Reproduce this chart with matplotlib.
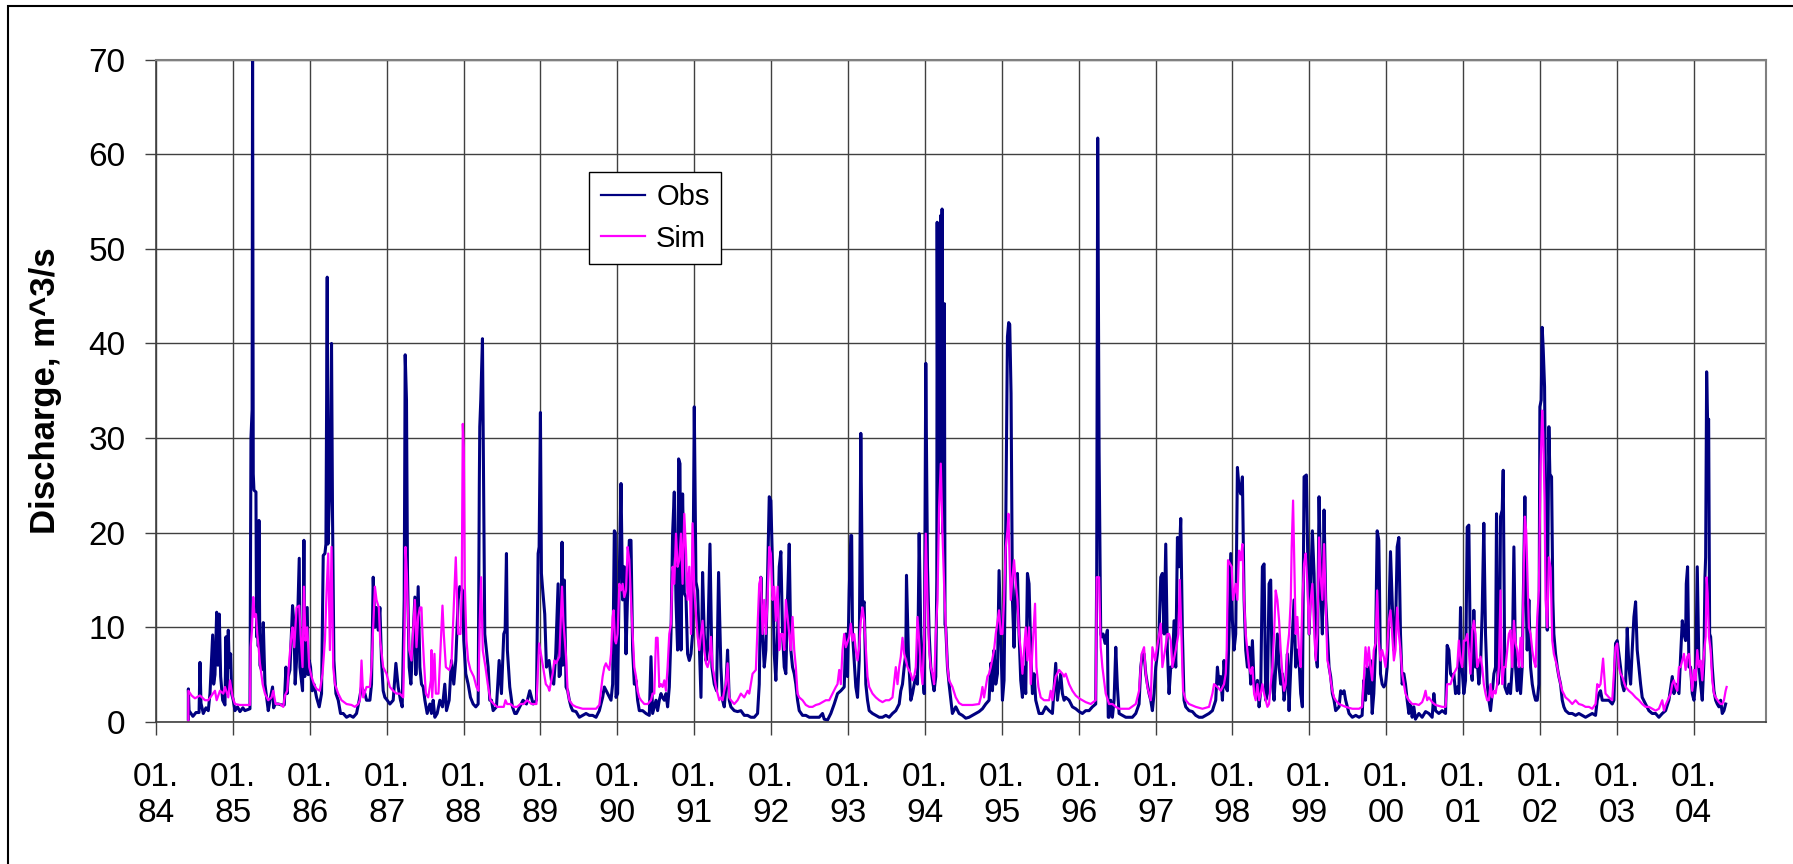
import matplotlib
matplotlib.use("Agg")
import matplotlib.pyplot as plt
import numpy as np
from matplotlib.patches import Rectangle

plt.rcParams['font.family'] = ['Liberation Sans', 'DejaVu Sans']

# daily discharge, read as (decimal year, m^3/s) points
obs_a = [(1984.420, 0.3), (1984.421, 3.5), (1984.430, 1.2), (1984.480, 0.6), (1984.520, 1.0), (1984.560, 1.0),
         (1984.572, 6.3), (1984.585, 2.0), (1984.615, 0.9), (1984.650, 1.5), (1984.680, 1.2), (1984.702, 3.0),
         (1984.737, 9.2), (1984.750, 4.0), (1984.767, 5.0), (1984.789, 11.6), (1984.805, 6.0), (1984.823, 11.4),
         (1984.841, 4.8), (1984.867, 2.3), (1984.897, 1.8), (1984.910, 9.0), (1984.925, 3.0), (1984.940, 9.7),
         (1984.953, 5.8), (1984.971, 7.2), (1984.984, 3.0), (1985.005, 2.3), (1985.027, 1.2), (1985.060, 1.6),
         (1985.092, 1.1), (1985.130, 1.5), (1985.157, 1.2), (1985.222, 1.4), (1985.235, 30.0), (1985.250, 33.0),
         (1985.256, 72.0), (1985.265, 26.2), (1985.274, 24.5), (1985.300, 24.3), (1985.308, 9.0), (1985.317, 21.0),
         (1985.330, 8.0), (1985.339, 21.3), (1985.352, 6.0), (1985.373, 5.5), (1985.395, 10.5), (1985.417, 4.0),
         (1985.438, 2.6), (1985.460, 1.2), (1985.482, 2.3), (1985.516, 3.7), (1985.530, 1.5), (1985.547, 1.9),
         (1985.590, 1.9), (1985.633, 1.8), (1985.668, 1.8), (1985.690, 5.8), (1985.705, 3.0), (1985.720, 4.8),
         (1985.742, 5.5), (1985.776, 12.3), (1985.794, 10.4), (1985.810, 4.0), (1985.828, 6.5), (1985.863, 17.3),
         (1985.872, 5.8), (1985.906, 3.3), (1985.924, 19.2), (1985.935, 4.8), (1985.967, 12.1), (1985.980, 5.0),
         (1985.993, 6.5), (1986.010, 5.8), (1986.032, 3.3), (1986.054, 4.0), (1986.088, 2.6), (1986.123, 1.6),
         (1986.153, 3.0), (1986.175, 17.6), (1986.197, 17.8), (1986.210, 18.8), (1986.227, 47.0), (1986.236, 18.8),
         (1986.262, 25.0), (1986.283, 40.0), (1986.296, 21.7), (1986.314, 6.5), (1986.340, 3.0), (1986.370, 2.3),
         (1986.400, 0.9), (1986.435, 0.9), (1986.478, 0.5), (1986.522, 0.7), (1986.565, 0.5), (1986.608, 0.9),
         (1986.643, 2.3), (1986.673, 3.7), (1986.717, 3.0), (1986.738, 2.3), (1986.782, 2.3), (1986.803, 4.0),
         (1986.825, 15.3), (1986.847, 10.0), (1986.868, 12.1), (1986.890, 9.7), (1986.912, 12.1), (1986.933, 6.5),
         (1986.955, 3.3), (1986.977, 2.6), (1987.007, 2.3), (1987.042, 1.9), (1987.085, 2.3), (1987.120, 6.2),
         (1987.150, 3.7), (1987.180, 2.3), (1987.202, 1.6), (1987.215, 7.2), (1987.228, 12.9), (1987.241, 38.8),
         (1987.258, 34.0), (1987.271, 15.7), (1987.293, 5.8), (1987.315, 4.0), (1987.336, 7.6), (1987.367, 13.2),
         (1987.380, 5.0), (1987.410, 14.3), (1987.432, 5.8), (1987.453, 4.0), (1987.475, 3.7), (1987.497, 2.3),
         (1987.527, 0.9), (1987.562, 1.9), (1987.583, 0.9), (1987.605, 2.3), (1987.627, 0.5), (1987.657, 0.9),
         (1987.692, 2.3), (1987.726, 1.6), (1987.756, 4.0), (1987.778, 1.2), (1987.813, 2.3), (1987.843, 6.5),
         (1987.873, 4.0), (1987.899, 6.5), (1987.930, 12.9), (1987.951, 14.3), (1987.986, 13.9), (1988.003, 8.6),
         (1988.029, 5.1), (1988.060, 4.0), (1988.090, 2.6), (1988.125, 1.9), (1988.159, 1.6), (1988.190, 1.9),
         (1988.205, 25.0), (1988.211, 31.2), (1988.224, 34.0), (1988.246, 40.5), (1988.263, 23.4), (1988.276, 9.3),
         (1988.298, 7.6), (1988.320, 5.8), (1988.341, 2.3), (1988.363, 2.3), (1988.385, 1.2), (1988.428, 1.6),
         (1988.463, 6.5), (1988.493, 3.0), (1988.523, 9.3), (1988.541, 9.7), (1988.558, 17.8), (1988.570, 7.6),
         (1988.601, 3.7), (1988.636, 1.6), (1988.666, 0.9), (1988.688, 0.9), (1988.731, 1.6), (1988.774, 2.3),
         (1988.818, 1.9), (1988.861, 3.3), (1988.905, 1.9), (1988.948, 2.3), (1988.970, 17.8), (1988.983, 18.5),
         (1989.000, 32.7), (1989.013, 15.7), (1989.026, 14.3), (1989.056, 11.4), (1989.078, 5.8), (1989.113, 6.5),
         (1989.143, 4.4), (1989.173, 4.0), (1989.199, 7.2), (1989.230, 14.6), (1989.243, 4.8)]

obs_b = [(1989.260, 5.0), (1989.281, 19.0), (1989.290, 6.0), (1989.311, 15.0), (1989.333, 3.7), (1989.354, 3.3),
         (1989.376, 2.3), (1989.398, 1.6), (1989.419, 1.2), (1989.463, 1.1), (1989.506, 0.5), (1989.549, 0.7),
         (1989.593, 0.9), (1989.636, 0.7), (1989.679, 0.7), (1989.723, 0.5), (1989.766, 1.2), (1989.809, 2.6),
         (1989.831, 3.7), (1989.874, 3.0), (1989.918, 2.3), (1989.939, 4.0), (1989.961, 20.2), (1989.974, 20.0),
         (1989.983, 2.6), (1990.004, 3.0), (1990.026, 15.7), (1990.048, 25.2), (1990.069, 12.9), (1990.091, 16.4),
         (1990.113, 7.2), (1990.134, 13.6), (1990.156, 19.2), (1990.178, 19.2), (1990.199, 7.6), (1990.221, 4.0),
         (1990.243, 4.4), (1990.264, 2.3), (1990.286, 1.2), (1990.329, 1.2), (1990.373, 0.9), (1990.416, 0.7),
         (1990.438, 6.9), (1990.459, 0.9), (1990.503, 2.3), (1990.524, 1.2), (1990.546, 2.3), (1990.568, 3.0),
         (1990.589, 2.6), (1990.611, 2.3), (1990.633, 3.0), (1990.654, 1.6), (1990.676, 3.7), (1990.698, 9.3),
         (1990.719, 19.9), (1990.741, 24.3), (1990.763, 12.9), (1990.784, 7.6), (1990.797, 27.8), (1990.815, 27.3),
         (1990.828, 7.6), (1990.849, 24.1), (1990.871, 13.6), (1990.893, 13.2), (1990.914, 7.2), (1990.936, 6.5),
         (1990.958, 7.2), (1990.979, 9.3), (1991.001, 33.3), (1991.023, 14.8), (1991.044, 13.9), (1991.066, 8.3),
         (1991.088, 2.6), (1991.109, 15.8), (1991.131, 9.3), (1991.153, 6.5), (1991.174, 7.6), (1991.205, 18.8),
         (1991.231, 5.8), (1991.261, 4.0), (1991.291, 3.3), (1991.317, 15.8), (1991.347, 5.8), (1991.369, 2.3),
         (1991.391, 1.6), (1991.412, 3.7), (1991.434, 7.6), (1991.456, 2.3), (1991.477, 1.6), (1991.521, 1.2),
         (1991.564, 1.1), (1991.607, 1.2), (1991.651, 0.7), (1991.694, 0.7), (1991.737, 0.5), (1991.781, 0.5),
         (1991.824, 0.9), (1991.846, 4.0), (1991.867, 15.3), (1991.889, 9.3), (1991.911, 5.8), (1991.932, 7.6),
         (1991.954, 15.3), (1991.976, 23.8), (1991.997, 23.4), (1992.019, 16.4), (1992.041, 7.2), (1992.062, 4.4),
         (1992.084, 9.3), (1992.106, 16.4), (1992.127, 18.0), (1992.149, 9.3), (1992.171, 5.8), (1992.192, 5.1),
         (1992.214, 12.9), (1992.236, 18.8), (1992.257, 7.6), (1992.279, 5.8), (1992.301, 5.1), (1992.322, 4.0),
         (1992.344, 2.3), (1992.366, 1.2), (1992.409, 0.7), (1992.452, 0.7), (1992.496, 0.5), (1992.539, 0.5),
         (1992.582, 0.5), (1992.626, 0.5), (1992.669, 0.9), (1992.691, 0.3), (1992.734, 0.2), (1992.777, 0.9),
         (1992.821, 1.9), (1992.864, 3.0), (1992.907, 3.3), (1992.951, 3.7), (1992.972, 9.3), (1992.994, 4.8),
         (1993.016, 13.9), (1993.037, 19.7), (1993.048, 19.7), (1993.059, 9.3), (1993.081, 6.5), (1993.102, 3.7),
         (1993.124, 2.6), (1993.146, 6.5), (1993.167, 30.5), (1993.189, 12.3), (1993.211, 12.7), (1993.232, 4.0),
         (1993.254, 2.3), (1993.276, 1.2), (1993.319, 0.9), (1993.362, 0.7), (1993.406, 0.5), (1993.449, 0.5),
         (1993.492, 0.7), (1993.536, 0.5), (1993.579, 0.9), (1993.622, 1.2), (1993.666, 1.9), (1993.687, 3.3),
         (1993.709, 4.0), (1993.731, 5.8), (1993.752, 7.2), (1993.761, 15.5), (1993.787, 6.9), (1993.817, 2.3),
         (1993.839, 3.0), (1993.861, 4.0), (1993.882, 4.8), (1993.904, 4.0), (1993.926, 19.9), (1993.947, 9.3),
         (1993.969, 5.8), (1993.991, 3.0), (1994.012, 37.9), (1994.034, 16.5), (1994.056, 9.3), (1994.077, 5.8),
         (1994.099, 4.4), (1994.120, 3.3), (1994.142, 4.8), (1994.155, 15.0), (1994.160, 52.8), (1994.170, 20.0),
         (1994.180, 50.5), (1994.190, 25.0), (1994.205, 53.5), (1994.215, 30.0), (1994.224, 54.2), (1994.235, 20.0),
         (1994.254, 44.2), (1994.262, 10.3)]

obs_c = [(1994.272, 10.0), (1994.294, 5.8), (1994.315, 4.0), (1994.358, 0.9), (1994.402, 1.6), (1994.445, 0.9),
         (1994.488, 0.7), (1994.532, 0.4), (1994.575, 0.5), (1994.618, 0.7), (1994.662, 0.9), (1994.705, 1.1),
         (1994.749, 1.4), (1994.792, 1.9), (1994.835, 2.3), (1994.857, 6.2), (1994.879, 3.3), (1994.900, 7.6),
         (1994.922, 4.0), (1994.944, 5.1), (1994.965, 16.0), (1994.987, 9.3), (1995.009, 2.3), (1995.030, 4.4),
         (1995.052, 20.6), (1995.074, 40.7), (1995.090, 42.2), (1995.104, 42.0), (1995.121, 34.7), (1995.139, 12.9),
         (1995.160, 7.9), (1995.182, 13.9), (1995.204, 15.7), (1995.225, 9.3), (1995.247, 4.4), (1995.269, 2.6),
         (1995.290, 5.8), (1995.312, 3.0), (1995.334, 15.7), (1995.355, 14.6), (1995.377, 7.6), (1995.399, 3.0),
         (1995.420, 5.1), (1995.442, 2.3), (1995.485, 0.9), (1995.529, 0.9), (1995.572, 1.6), (1995.616, 1.2),
         (1995.659, 0.9), (1995.702, 6.2), (1995.724, 2.3), (1995.767, 5.1), (1995.789, 3.0), (1995.811, 2.3),
         (1995.832, 2.6), (1995.876, 2.3), (1995.919, 1.6), (1995.962, 1.4), (1996.006, 1.1), (1996.049, 0.9),
         (1996.092, 1.2), (1996.136, 1.2), (1996.179, 1.6), (1996.222, 1.9), (1996.235, 16.0), (1996.248, 61.7),
         (1996.266, 28.7), (1996.287, 9.3), (1996.300, 9.0), (1996.318, 9.3), (1996.344, 8.3), (1996.374, 9.7),
         (1996.385, 0.5), (1996.396, 0.5), (1996.417, 2.3), (1996.439, 0.5), (1996.461, 2.3), (1996.483, 7.9),
         (1996.504, 3.7), (1996.526, 0.9), (1996.569, 0.7), (1996.613, 0.5), (1996.656, 0.5), (1996.699, 0.5),
         (1996.743, 0.9), (1996.786, 1.9), (1996.808, 5.8), (1996.829, 7.2), (1996.851, 7.2), (1996.873, 5.1),
         (1996.894, 4.0), (1996.916, 3.0), (1996.938, 2.3), (1996.959, 1.2), (1996.981, 3.0), (1997.003, 5.8),
         (1997.024, 7.2), (1997.046, 9.3), (1997.068, 15.3), (1997.089, 15.7), (1997.111, 9.3), (1997.133, 18.8),
         (1997.154, 7.6), (1997.176, 3.0), (1997.198, 5.8), (1997.219, 5.8), (1997.241, 10.7), (1997.263, 5.8),
         (1997.285, 19.5), (1997.306, 16.4), (1997.328, 21.5), (1997.350, 9.3), (1997.371, 2.3), (1997.393, 1.6),
         (1997.436, 1.2), (1997.480, 1.1), (1997.523, 0.7), (1997.566, 0.5), (1997.610, 0.5), (1997.653, 0.7),
         (1997.696, 0.9), (1997.740, 1.2), (1997.783, 2.3), (1997.805, 5.8), (1997.826, 4.0), (1997.848, 4.8),
         (1997.870, 2.3), (1997.891, 6.5), (1997.913, 3.7), (1997.935, 3.3), (1997.956, 9.3), (1997.978, 17.8),
         (1998.000, 10.7), (1998.021, 7.6), (1998.043, 9.3), (1998.065, 26.9), (1998.086, 24.8), (1998.108, 24.1),
         (1998.130, 25.9), (1998.152, 12.9), (1998.173, 7.6), (1998.195, 5.8), (1998.217, 7.9), (1998.238, 4.0),
         (1998.260, 8.6), (1998.282, 4.0), (1998.303, 2.6), (1998.325, 4.4), (1998.347, 1.6), (1998.368, 3.3),
         (1998.390, 16.4), (1998.412, 16.7), (1998.433, 2.3), (1998.455, 3.0), (1998.477, 14.6), (1998.498, 15.0),
         (1998.520, 4.0), (1998.542, 2.3), (1998.563, 5.8), (1998.585, 9.3), (1998.607, 5.8), (1998.628, 4.0),
         (1998.650, 5.1), (1998.672, 2.3), (1998.693, 4.0), (1998.715, 7.2), (1998.737, 1.2), (1998.759, 5.8),
         (1998.780, 9.3), (1998.802, 12.9), (1998.823, 5.8), (1998.845, 7.6), (1998.867, 6.5), (1998.888, 3.0),
         (1998.910, 1.6), (1998.932, 25.9), (1998.962, 26.1), (1998.975, 19.9), (1998.997, 9.3), (1999.018, 14.6),
         (1999.040, 20.2), (1999.062, 15.7), (1999.083, 7.2), (1999.105, 5.8), (1999.127, 23.8), (1999.148, 14.6),
         (1999.170, 9.3), (1999.192, 22.4), (1999.213, 12.9), (1999.235, 9.3), (1999.257, 5.8), (1999.278, 4.8),
         (1999.300, 3.0), (1999.322, 2.3), (1999.343, 1.2), (1999.387, 1.6), (1999.408, 3.3), (1999.430, 3.0),
         (1999.452, 3.3), (1999.473, 2.3), (1999.517, 0.9), (1999.560, 0.5), (1999.604, 0.7), (1999.647, 0.5)]

obs_d = [(1999.687, 0.7), (1999.709, 4.4), (1999.731, 2.3), (1999.753, 5.8), (1999.774, 3.0), (1999.796, 6.5),
         (1999.818, 0.9), (1999.839, 3.0), (1999.861, 7.6), (1999.883, 20.2), (1999.904, 19.2), (1999.913, 14.3),
         (1999.926, 5.1), (1999.948, 4.0), (1999.969, 3.7), (1999.991, 4.0), (2000.013, 5.8), (2000.034, 10.7),
         (2000.056, 18.0), (2000.078, 12.9), (2000.100, 7.6), (2000.121, 9.3), (2000.143, 18.5), (2000.165, 19.5),
         (2000.186, 9.3), (2000.208, 4.0), (2000.230, 5.1), (2000.251, 4.0), (2000.273, 2.3), (2000.295, 0.9),
         (2000.316, 1.9), (2000.338, 0.5), (2000.360, 1.6), (2000.381, 0.3), (2000.425, 0.9), (2000.468, 0.5),
         (2000.512, 1.1), (2000.555, 0.9), (2000.598, 0.5), (2000.620, 3.0), (2000.642, 1.2), (2000.685, 0.9),
         (2000.728, 1.2), (2000.772, 0.9), (2000.793, 8.1), (2000.815, 7.6), (2000.837, 5.1), (2000.858, 4.8),
         (2000.880, 5.1), (2000.902, 3.0), (2000.924, 3.7), (2000.945, 3.0), (2000.967, 12.1), (2000.980, 6.5),
         (2001.010, 3.0), (2001.032, 4.4), (2001.054, 20.6), (2001.075, 20.8), (2001.097, 5.8), (2001.119, 4.4),
         (2001.140, 11.8), (2001.162, 5.8), (2001.184, 6.5), (2001.205, 4.0), (2001.227, 5.8), (2001.249, 11.8),
         (2001.270, 21.0), (2001.292, 9.3), (2001.314, 4.0), (2001.336, 2.3), (2001.357, 1.2), (2001.379, 3.0),
         (2001.401, 5.1), (2001.422, 5.8), (2001.435, 22.0), (2001.453, 4.0), (2001.474, 5.8), (2001.487, 21.7),
         (2001.509, 22.4), (2001.522, 26.6), (2001.544, 3.7), (2001.574, 3.0), (2001.596, 4.0), (2001.617, 3.0),
         (2001.639, 5.8), (2001.661, 18.5), (2001.683, 5.8), (2001.704, 3.3), (2001.726, 5.8), (2001.748, 3.0),
         (2001.769, 5.8), (2001.791, 17.0), (2001.804, 23.8), (2001.821, 12.9), (2001.834, 7.6), (2001.856, 12.9),
         (2001.878, 5.8), (2001.900, 4.0), (2001.921, 3.0), (2001.943, 2.3), (2001.965, 2.3), (2001.986, 4.0),
         (2001.999, 33.3), (2002.016, 34.0), (2002.029, 41.7), (2002.042, 39.5), (2002.060, 35.4), (2002.073, 23.4),
         (2002.095, 9.7), (2002.116, 31.2), (2002.129, 26.2), (2002.151, 25.9), (2002.168, 12.9), (2002.181, 9.3),
         (2002.203, 7.2), (2002.225, 5.8), (2002.246, 4.8), (2002.268, 4.0), (2002.290, 2.3), (2002.311, 1.6),
         (2002.333, 1.2), (2002.376, 0.9), (2002.420, 0.9), (2002.463, 0.7), (2002.506, 0.9), (2002.550, 0.7),
         (2002.593, 0.5), (2002.637, 0.7), (2002.680, 0.9), (2002.723, 0.7), (2002.745, 2.3), (2002.767, 3.0),
         (2002.788, 3.3), (2002.810, 2.3), (2002.853, 2.3), (2002.897, 2.3), (2002.940, 1.9), (2002.962, 2.3),
         (2002.983, 8.3), (2003.005, 8.6), (2003.027, 7.2), (2003.048, 5.8), (2003.070, 4.0), (2003.092, 3.3),
         (2003.114, 4.0), (2003.135, 9.9), (2003.157, 5.8), (2003.179, 4.0), (2003.200, 7.6), (2003.222, 11.1),
         (2003.244, 12.7), (2003.265, 7.6), (2003.287, 5.8), (2003.309, 4.0), (2003.330, 2.6), (2003.374, 1.9),
         (2003.417, 1.2), (2003.460, 0.9), (2003.504, 0.9), (2003.547, 0.5), (2003.591, 0.9), (2003.634, 1.2),
         (2003.677, 2.3), (2003.721, 4.8), (2003.743, 3.0), (2003.764, 4.0), (2003.808, 3.0), (2003.829, 6.9),
         (2003.851, 10.7), (2003.873, 9.3), (2003.894, 8.6), (2003.903, 14.6), (2003.920, 16.4), (2003.938, 5.8),
         (2003.959, 5.8), (2003.981, 3.0), (2004.003, 2.3), (2004.024, 4.0), (2004.046, 16.4), (2004.068, 5.8),
         (2004.089, 4.0), (2004.111, 2.3), (2004.133, 6.5), (2004.146, 15.3), (2004.155, 17.4), (2004.168, 37.0),
         (2004.181, 31.5), (2004.194, 32.0), (2004.207, 9.3), (2004.220, 9.0), (2004.241, 5.8), (2004.263, 3.3),
         (2004.285, 2.3), (2004.306, 1.9), (2004.328, 1.6), (2004.350, 2.3), (2004.371, 0.9), (2004.393, 1.2),
         (2004.415, 1.9)]

sim_a = [(1984.420, 0.1), (1984.421, 3.3), (1984.463, 2.8), (1984.507, 2.5), (1984.572, 2.8), (1984.637, 2.3),
         (1984.680, 2.3), (1984.724, 2.8), (1984.767, 3.3), (1984.789, 2.3), (1984.832, 3.3), (1984.875, 3.0),
         (1984.897, 3.7), (1984.940, 2.6), (1984.962, 4.4), (1984.997, 2.6), (1985.027, 1.9), (1985.092, 1.8),
         (1985.157, 1.8), (1985.222, 1.8), (1985.231, 7.9), (1985.248, 9.7), (1985.265, 13.2), (1985.282, 11.1),
         (1985.300, 11.4), (1985.317, 9.3), (1985.334, 7.9), (1985.352, 6.2), (1985.387, 4.0), (1985.417, 3.0),
         (1985.460, 2.3), (1985.503, 2.6), (1985.525, 3.3), (1985.556, 1.9), (1985.612, 1.9), (1985.655, 1.6),
         (1985.677, 2.8), (1985.707, 3.3), (1985.733, 6.5), (1985.763, 9.3), (1985.776, 10.0), (1985.798, 7.9),
         (1985.828, 12.1), (1985.863, 12.3), (1985.880, 9.3), (1985.906, 5.8), (1985.924, 14.3), (1985.945, 8.6),
         (1985.967, 10.0), (1985.993, 5.8), (1986.023, 4.8), (1986.054, 4.0), (1986.088, 3.5), (1986.131, 3.3),
         (1986.166, 5.1), (1986.197, 8.6), (1986.219, 13.9), (1986.240, 17.8), (1986.262, 7.6), (1986.283, 18.5),
         (1986.305, 5.8), (1986.327, 4.0), (1986.370, 3.0), (1986.413, 2.3), (1986.478, 1.9), (1986.543, 1.8),
         (1986.587, 1.6), (1986.630, 1.9), (1986.652, 2.3), (1986.673, 6.5), (1986.695, 2.6), (1986.738, 3.7),
         (1986.782, 3.7), (1986.803, 5.8), (1986.825, 10.0), (1986.847, 14.3), (1986.868, 12.9), (1986.898, 12.1),
         (1986.916, 8.6), (1986.955, 5.8), (1986.998, 5.1), (1987.042, 3.7), (1987.085, 3.3), (1987.128, 3.0),
         (1987.172, 3.0), (1987.215, 2.6), (1987.232, 9.3), (1987.245, 18.5), (1987.262, 15.7), (1987.293, 7.6),
         (1987.323, 6.5), (1987.345, 9.7), (1987.367, 12.9), (1987.388, 7.9), (1987.410, 11.1), (1987.432, 12.1),
         (1987.453, 12.1), (1987.466, 9.3), (1987.484, 6.5), (1987.510, 3.0), (1987.540, 2.6), (1987.575, 4.4),
         (1987.583, 7.6), (1987.592, 2.6), (1987.622, 7.2), (1987.640, 3.0), (1987.674, 3.0), (1987.709, 9.3),
         (1987.726, 12.3), (1987.743, 9.3), (1987.770, 5.8), (1987.813, 5.5), (1987.843, 6.2), (1987.873, 12.1),
         (1987.899, 17.4), (1987.930, 9.3), (1987.960, 9.3), (1987.977, 14.3), (1987.990, 31.5), (1988.003, 29.0),
         (1988.016, 14.6), (1988.038, 8.6), (1988.060, 6.5), (1988.090, 5.5), (1988.133, 4.8), (1988.168, 3.7),
         (1988.194, 3.3), (1988.211, 10.7), (1988.228, 15.3), (1988.250, 7.6), (1988.285, 5.8), (1988.315, 4.0),
         (1988.350, 2.3), (1988.394, 1.9), (1988.437, 1.6), (1988.480, 1.6), (1988.523, 1.6), (1988.545, 2.3),
         (1988.567, 1.9), (1988.610, 1.9), (1988.653, 1.6), (1988.697, 1.6), (1988.740, 1.9), (1988.783, 1.9),
         (1988.827, 2.3), (1988.883, 1.9), (1988.948, 1.9), (1988.983, 8.3), (1989.013, 6.9), (1989.035, 5.8),
         (1989.070, 4.0), (1989.100, 3.7)]

sim_b = [(1989.116, 3.3), (1989.159, 5.1), (1989.181, 6.5), (1989.203, 6.2), (1989.246, 6.9), (1989.281, 14.3),
         (1989.298, 10.7), (1989.311, 9.3), (1989.333, 6.9), (1989.354, 3.3), (1989.376, 2.3), (1989.419, 1.8),
         (1989.463, 1.6), (1989.549, 1.4), (1989.636, 1.4), (1989.723, 1.4), (1989.766, 1.8), (1989.809, 4.8),
         (1989.831, 5.8), (1989.852, 6.2), (1989.874, 5.8), (1989.896, 5.5), (1989.918, 7.2), (1989.939, 11.1),
         (1989.952, 11.8), (1989.970, 8.6), (1989.983, 8.3), (1990.004, 9.3), (1990.026, 14.6), (1990.048, 13.9),
         (1990.069, 14.6), (1990.091, 13.2), (1990.113, 13.9), (1990.134, 18.5), (1990.156, 17.1), (1990.178, 12.9),
         (1990.199, 9.3), (1990.221, 5.8), (1990.243, 4.8), (1990.264, 3.3), (1990.286, 2.6), (1990.308, 2.3),
         (1990.351, 1.9), (1990.395, 1.9), (1990.438, 2.3), (1990.459, 3.0), (1990.481, 3.0), (1990.503, 8.9),
         (1990.524, 8.9), (1990.546, 3.7), (1990.568, 4.0), (1990.589, 3.7), (1990.611, 4.4), (1990.633, 3.3),
         (1990.654, 5.8), (1990.676, 9.3), (1990.698, 10.4), (1990.719, 16.4), (1990.741, 14.6), (1990.763, 19.9),
         (1990.784, 16.4), (1990.806, 17.1), (1990.828, 19.9), (1990.849, 14.6), (1990.871, 22.0), (1990.893, 18.1),
         (1990.914, 12.9), (1990.936, 16.4), (1990.958, 9.3), (1990.979, 21.0), (1991.001, 13.9), (1991.023, 11.4),
         (1991.044, 9.0), (1991.066, 7.6), (1991.088, 9.3), (1991.109, 10.7), (1991.131, 7.6), (1991.153, 6.2),
         (1991.174, 5.8), (1991.196, 6.5), (1991.218, 9.0), (1991.239, 5.8), (1991.261, 4.8), (1991.283, 3.7),
         (1991.304, 3.0), (1991.326, 2.3), (1991.347, 2.6), (1991.369, 2.3), (1991.391, 3.3), (1991.412, 4.0),
         (1991.434, 6.2), (1991.456, 2.6), (1991.477, 2.3), (1991.521, 1.9), (1991.564, 2.3), (1991.607, 3.0),
         (1991.651, 2.6), (1991.694, 3.3), (1991.716, 3.0), (1991.759, 5.1), (1991.802, 5.5), (1991.846, 14.6),
         (1991.867, 15.3), (1991.889, 9.3), (1991.911, 12.9), (1991.932, 9.3), (1991.954, 12.9), (1991.976, 18.5),
         (1991.997, 17.8), (1992.019, 12.9), (1992.041, 14.3), (1992.062, 10.7), (1992.084, 14.3), (1992.106, 7.6),
         (1992.127, 9.3), (1992.149, 9.3), (1992.171, 7.6), (1992.192, 12.9), (1992.214, 11.1), (1992.236, 9.3),
         (1992.257, 7.6), (1992.279, 11.1), (1992.301, 7.6), (1992.322, 5.8), (1992.344, 3.0), (1992.366, 2.6),
         (1992.409, 2.3), (1992.452, 1.8), (1992.496, 1.6), (1992.539, 1.6), (1992.582, 1.8), (1992.626, 1.9),
         (1992.669, 2.1), (1992.712, 2.3), (1992.756, 2.3), (1992.799, 3.0), (1992.842, 3.7), (1992.864, 4.0),
         (1992.886, 5.5), (1992.907, 4.0), (1992.929, 7.6), (1992.951, 9.3), (1992.972, 7.9), (1993.016, 9.0),
         (1993.037, 10.4), (1993.059, 8.6), (1993.081, 9.3), (1993.102, 7.6), (1993.124, 6.5), (1993.146, 7.9),
         (1993.167, 10.7), (1993.189, 12.1), (1993.211, 10.7), (1993.232, 7.9), (1993.254, 4.8), (1993.276, 3.7),
         (1993.319, 3.0), (1993.362, 2.6), (1993.406, 2.3), (1993.449, 2.1), (1993.492, 2.3), (1993.536, 2.3),
         (1993.579, 2.6), (1993.622, 5.8), (1993.644, 4.0), (1993.666, 5.8), (1993.687, 6.9), (1993.709, 8.9),
         (1993.731, 7.2), (1993.752, 6.5), (1993.774, 5.8), (1993.817, 5.1), (1993.839, 4.4), (1993.861, 4.8),
         (1993.882, 5.8), (1993.904, 11.1), (1993.926, 8.6), (1993.947, 5.8), (1993.969, 4.0), (1993.991, 8.6),
         (1994.012, 19.9), (1994.034, 12.9), (1994.056, 7.6), (1994.077, 5.8), (1994.099, 5.1), (1994.120, 4.0),
         (1994.142, 9.3), (1994.164, 12.9), (1994.185, 22.7), (1994.207, 27.3), (1994.229, 19.9), (1994.250, 14.6),
         (1994.272, 10.0), (1994.294, 5.8), (1994.315, 4.4), (1994.359, 3.7), (1994.402, 2.6)]

sim_c = [(1994.445, 2.0), (1994.488, 1.8), (1994.618, 1.8), (1994.705, 1.9), (1994.727, 2.6), (1994.749, 3.7),
         (1994.770, 2.6), (1994.792, 3.7), (1994.814, 4.8), (1994.835, 5.1), (1994.857, 5.8), (1994.900, 7.6),
         (1994.922, 9.3), (1994.965, 11.8), (1994.987, 9.3), (1995.009, 9.3), (1995.030, 12.9), (1995.052, 18.5),
         (1995.074, 20.2), (1995.087, 22.0), (1995.104, 16.4), (1995.117, 12.9), (1995.139, 15.3), (1995.160, 17.1),
         (1995.182, 14.6), (1995.204, 12.9), (1995.225, 9.3), (1995.247, 7.6), (1995.269, 5.1), (1995.312, 10.0),
         (1995.334, 6.5), (1995.355, 10.0), (1995.377, 4.0), (1995.399, 7.6), (1995.433, 12.5), (1995.451, 5.8),
         (1995.477, 3.7), (1995.507, 2.6), (1995.550, 2.3), (1995.616, 2.3), (1995.637, 3.3), (1995.659, 2.3),
         (1995.680, 3.7), (1995.702, 4.8), (1995.746, 5.5), (1995.789, 5.1), (1995.811, 4.8), (1995.832, 5.1),
         (1995.876, 4.0), (1995.919, 3.3), (1995.962, 2.8), (1996.006, 2.5), (1996.049, 2.3), (1996.092, 2.1),
         (1996.157, 1.9), (1996.222, 2.3), (1996.235, 15.3), (1996.266, 15.3), (1996.287, 7.9), (1996.309, 5.8),
         (1996.352, 3.0), (1996.396, 1.9), (1996.439, 1.9), (1996.483, 1.6), (1996.526, 1.4), (1996.656, 1.4),
         (1996.743, 1.9), (1996.786, 3.3), (1996.820, 7.2), (1996.851, 7.9), (1996.873, 5.1), (1996.894, 3.7),
         (1996.916, 3.0), (1996.938, 2.3), (1996.959, 7.9), (1996.994, 6.5), (1997.068, 10.4), (1997.089, 5.8),
         (1997.124, 7.6), (1997.154, 9.3), (1997.176, 9.3), (1997.198, 8.6), (1997.219, 5.8), (1997.263, 7.6),
         (1997.298, 9.3), (1997.315, 15.0), (1997.337, 9.3), (1997.358, 3.3), (1997.393, 2.3), (1997.436, 1.9),
         (1997.523, 1.6), (1997.610, 1.4), (1997.696, 1.6), (1997.740, 3.0), (1997.761, 4.0), (1997.805, 3.7),
         (1997.848, 3.3), (1997.891, 4.0), (1997.913, 5.1), (1997.926, 7.6), (1997.943, 17.1), (1997.991, 16.4),
         (1998.008, 12.9), (1998.043, 14.6), (1998.065, 12.9), (1998.086, 18.1), (1998.108, 17.1), (1998.130, 18.8),
         (1998.152, 12.9), (1998.173, 9.3), (1998.195, 7.6), (1998.217, 5.8), (1998.238, 5.1), (1998.260, 5.8),
         (1998.282, 3.0), (1998.303, 2.3), (1998.325, 4.0), (1998.347, 2.3), (1998.368, 3.0), (1998.390, 4.0),
         (1998.412, 3.0), (1998.433, 2.3), (1998.455, 1.6), (1998.477, 1.9), (1998.498, 4.0), (1998.520, 5.8),
         (1998.542, 9.3), (1998.563, 13.9), (1998.585, 12.9), (1998.607, 10.7), (1998.628, 7.6), (1998.650, 5.1),
         (1998.672, 3.3), (1998.693, 4.0), (1998.715, 7.6), (1998.737, 9.3), (1998.759, 12.9), (1998.771, 18.5),
         (1998.789, 23.4), (1998.806, 16.4), (1998.823, 9.3), (1998.845, 11.1), (1998.867, 7.2), (1998.888, 5.8),
         (1998.910, 12.9), (1998.932, 16.7), (1998.953, 17.8), (1998.975, 14.6), (1998.997, 9.3), (1999.018, 12.9),
         (1999.040, 14.6), (1999.062, 10.0), (1999.083, 6.5), (1999.105, 9.3), (1999.127, 19.5), (1999.148, 15.3),
         (1999.170, 12.9), (1999.192, 18.8), (1999.213, 12.9), (1999.235, 6.5), (1999.257, 5.8), (1999.278, 4.4),
         (1999.300, 3.3), (1999.322, 2.6), (1999.343, 2.3), (1999.387, 1.9), (1999.473, 1.6), (1999.560, 1.4),
         (1999.647, 1.4)]

sim_d = [(1999.687, 1.6), (1999.709, 4.4), (1999.731, 7.9), (1999.753, 5.8), (1999.774, 7.9), (1999.796, 5.8),
         (1999.818, 4.4), (1999.839, 7.6), (1999.861, 8.3), (1999.883, 13.9), (1999.904, 8.6), (1999.926, 6.5),
         (1999.948, 7.6), (1999.969, 6.9), (1999.991, 5.8), (2000.013, 7.6), (2000.034, 10.7), (2000.056, 11.8),
         (2000.078, 9.3), (2000.100, 6.5), (2000.121, 7.6), (2000.143, 12.1), (2000.165, 9.3), (2000.186, 7.6),
         (2000.208, 5.1), (2000.230, 4.0), (2000.251, 3.0), (2000.273, 2.6), (2000.295, 2.3), (2000.338, 1.9),
         (2000.381, 1.9), (2000.425, 1.8), (2000.468, 2.1), (2000.490, 2.6), (2000.512, 3.3), (2000.533, 2.3),
         (2000.555, 2.6), (2000.598, 2.1), (2000.642, 1.8), (2000.728, 1.6), (2000.772, 1.6), (2000.793, 4.0),
         (2000.837, 4.0), (2000.880, 5.1), (2000.924, 5.8), (2000.945, 8.6), (2000.967, 6.5), (2000.988, 5.8),
         (2001.010, 8.6), (2001.032, 8.6), (2001.054, 9.3), (2001.075, 7.6), (2001.097, 5.1), (2001.119, 9.6),
         (2001.140, 10.7), (2001.162, 9.3), (2001.184, 5.8), (2001.205, 6.5), (2001.227, 6.9), (2001.249, 5.8),
         (2001.270, 4.0), (2001.292, 3.0), (2001.314, 2.3), (2001.336, 2.3), (2001.357, 4.0), (2001.379, 2.6),
         (2001.401, 3.3), (2001.422, 3.0), (2001.444, 4.0), (2001.466, 5.8), (2001.487, 13.9), (2001.509, 4.0),
         (2001.531, 5.8), (2001.552, 5.8), (2001.574, 7.6), (2001.596, 9.3), (2001.617, 9.7), (2001.639, 5.8),
         (2001.661, 10.7), (2001.683, 8.3), (2001.704, 7.6), (2001.726, 5.8), (2001.748, 8.9), (2001.769, 5.8),
         (2001.791, 17.0), (2001.804, 21.7), (2001.821, 20.2), (2001.834, 16.3), (2001.856, 10.0), (2001.878, 9.3),
         (2001.900, 7.6), (2001.921, 6.5), (2001.943, 5.8), (2001.965, 11.1), (2001.986, 13.9), (2002.008, 27.0),
         (2002.029, 32.9), (2002.042, 30.5), (2002.060, 23.4), (2002.073, 12.9), (2002.095, 10.0), (2002.116, 17.4),
         (2002.138, 16.3), (2002.160, 8.6), (2002.181, 7.2), (2002.203, 6.5), (2002.225, 5.8), (2002.246, 4.8),
         (2002.268, 4.0), (2002.290, 3.3), (2002.333, 2.6), (2002.376, 2.3), (2002.420, 1.9), (2002.463, 2.3),
         (2002.506, 1.9), (2002.550, 1.8), (2002.593, 1.6), (2002.637, 1.6), (2002.680, 1.4), (2002.723, 1.9),
         (2002.745, 4.0), (2002.767, 3.7), (2002.788, 4.0), (2002.810, 5.8), (2002.821, 6.7), (2002.853, 3.0),
         (2002.897, 2.6), (2002.940, 2.3), (2002.983, 7.9), (2003.005, 8.3), (2003.027, 5.8), (2003.048, 5.1),
         (2003.070, 4.8), (2003.114, 3.7), (2003.157, 3.3), (2003.200, 3.0), (2003.244, 2.6), (2003.287, 2.3),
         (2003.330, 1.9), (2003.374, 1.6), (2003.417, 1.6), (2003.460, 1.4), (2003.504, 1.2), (2003.547, 1.4),
         (2003.591, 2.3), (2003.613, 1.2), (2003.634, 1.8), (2003.677, 2.6), (2003.700, 3.0), (2003.721, 4.0),
         (2003.743, 4.4), (2003.764, 3.7), (2003.786, 3.3), (2003.808, 5.8), (2003.829, 5.8), (2003.851, 6.5),
         (2003.873, 7.2), (2003.894, 5.5), (2003.916, 6.9), (2003.938, 7.2), (2003.981, 3.3), (2004.003, 5.5),
         (2004.024, 4.4), (2004.046, 7.6), (2004.068, 5.8), (2004.089, 6.5), (2004.111, 4.4), (2004.133, 7.2),
         (2004.155, 9.0), (2004.168, 15.3), (2004.181, 13.6), (2004.198, 9.0), (2004.220, 7.6), (2004.241, 4.4),
         (2004.263, 3.0), (2004.285, 2.6), (2004.328, 2.1), (2004.350, 1.9), (2004.371, 1.9), (2004.393, 2.3),
         (2004.415, 3.3), (2004.428, 3.7)]

years = list(range(1984, 2005))
year_labels = ["01.\n%02d" % (y % 100) for y in years]
y_ticks = [0, 10, 20, 30, 40, 50, 60, 70]


def series(*parts):
    pts = sorted(p for part in parts for p in part)
    t, q = zip(*pts)
    return np.array(t), np.array(q)


obs_t, obs_q = series(obs_a, obs_b, obs_c, obs_d)
sim_t, sim_q = series(sim_a, sim_b, sim_c, sim_d)

fig = plt.figure(figsize=(17.93, 8.64), dpi=100)
ax_bottom = 1 - 722 / 864
ax_height = 662.5 / 864
ax = fig.add_axes([156 / 1793, ax_bottom, 1610 / 1793, ax_height])

ax.plot(obs_t, obs_q, color='#000080', lw=2.2, label='Obs')
ax.plot(sim_t, sim_q, color='#FF00FF', lw=1.6, label='Sim')

ax.set_xlim(1984.0, 2004.94)
ax.set_ylim(0, 70)
ax.set_xticks(years)
ax.set_xticklabels(year_labels)
ax.set_yticks(y_ticks)

ax.grid(True, color='#404040', lw=1.0)
ax.set_axisbelow(True)
ax.tick_params(axis='x', direction='out', length=9, width=1, color='#404040',
               labelsize=24, pad=20)
ax.tick_params(axis='y', direction='out', length=8, width=1, color='#404040',
               labelsize=24, pad=14)
for side in ['left', 'bottom']:
    ax.spines[side].set_color('#404040')
    ax.spines[side].set_linewidth(1.2)
for side in ['top', 'right']:
    ax.spines[side].set_color('#808080')
    ax.spines[side].set_linewidth(1.5)

ax.set_ylabel('Discharge, m^3/s', fontsize=25, fontweight='bold')
ax.yaxis.set_label_coords(62 / 1793, ax_bottom + ax_height / 2, transform=fig.transFigure)

leg = ax.legend(loc='upper left', bbox_to_anchor=(0.269, 0.8306), fontsize=21,
                frameon=True, fancybox=False, framealpha=1, edgecolor='black',
                handlelength=1.5, handletextpad=0.4, labelspacing=0.45, borderpad=0.4,
                borderaxespad=0)
leg.get_frame().set_linewidth(1.0)
for line in leg.get_lines():
    line.set_linewidth(1.6)

# chart-area frame
fig.patches.append(Rectangle((8 / 1793, -0.1), 1.2, 1.1 - 6 / 864, transform=fig.transFigure,
                             fill=False, edgecolor='black', lw=1.5))

fig.savefig('out.png', dpi=100)
